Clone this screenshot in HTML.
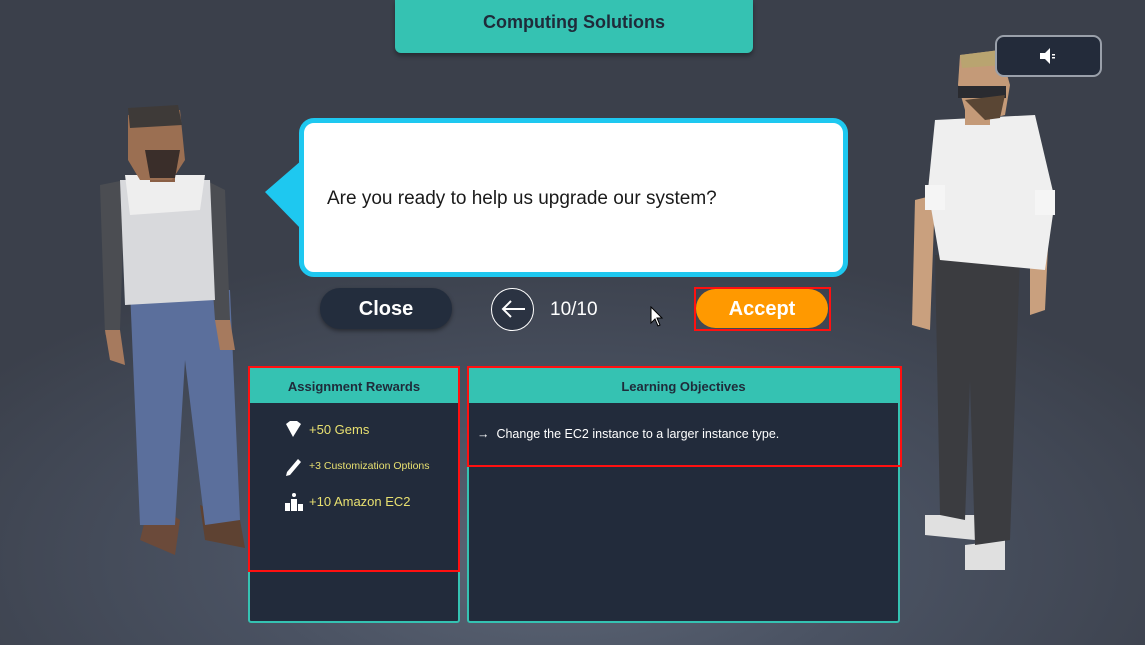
<!DOCTYPE html>
<html><head><style>
*{margin:0;padding:0;box-sizing:border-box}
body{width:1145px;height:645px;overflow:hidden;position:relative;font-family:"Liberation Sans",sans-serif;
background:radial-gradient(ellipse 700px 320px at 560px 560px,#5d6676 0%,#4a5262 45%,#3b404b 100%);}
.abs{position:absolute}
.panel{position:absolute;border:2px solid #35c2b2;background:#222b3b;border-radius:3px}
.ph{background:#35c2b2;height:34px;text-align:center;font-weight:bold;font-size:13px;color:#1f2b3a;line-height:36px}
.red{position:absolute;border:2px solid #ff1010}
.rw{position:absolute;color:#e8e070;font-size:13px}
</style></head><body>
<svg class="abs" style="left:0;top:0" width="1145" height="645">
 <polygon points="150,500 140,540 175,555 180,520" fill="#6b4a3a"/>
 <polygon points="200,505 205,540 245,548 240,520" fill="#5e4232"/>
 <polygon points="130,290 230,290 240,520 205,525 185,360 175,525 140,525" fill="#5b6f9c"/>
 <polygon points="100,185 125,180 120,330 105,335" fill="#4b4d52"/>
 <polygon points="205,180 225,190 230,320 215,320" fill="#4b4d52"/>
 <polygon points="120,180 210,180 215,300 125,305" fill="#d8d9dc"/>
 <polygon points="125,175 205,175 200,210 130,215" fill="#eeeeee"/>
 <polygon points="105,330 120,330 125,365 110,360" fill="#a67a5e"/>
 <polygon points="215,320 230,320 235,350 220,350" fill="#a67a5e"/>
 <rect x="150" y="160" width="25" height="22" fill="#8a5f45"/>
 <polygon points="128,115 180,110 185,160 172,180 140,180 128,160" fill="#9b6f52"/>
 <polygon points="128,108 178,105 182,125 130,128" fill="#3e3a38"/>
 <polygon points="145,150 180,150 175,178 150,178" fill="#3a2e2a"/>
 <polygon points="925,515 925,535 975,540 975,515" fill="#e0e0e0"/>
 <polygon points="965,545 965,570 1005,570 1005,540" fill="#e0e0e0"/>
 <polygon points="935,255 1020,255 1010,540 975,545 970,380 965,520 940,515" fill="#3b3c40"/>
 <polygon points="915,200 935,195 930,330 912,325" fill="#c9a07e"/>
 <polygon points="1030,200 1050,205 1045,310 1030,315" fill="#c9a07e"/>
 <polygon points="935,120 1035,115 1055,200 1045,270 940,260 928,190" fill="#efefef"/>
 <rect x="925" y="185" width="20" height="25" fill="#f5f5f5"/>
 <rect x="1035" y="190" width="20" height="25" fill="#f5f5f5"/>
 <rect x="965" y="105" width="25" height="20" fill="#c49a78"/>
 <polygon points="960,55 1000,50 1010,85 1005,115 985,120 965,110 958,85" fill="#c49a78"/>
 <polygon points="960,55 1000,50 1003,65 962,68" fill="#b9a470"/>
 <rect x="958" y="86" width="48" height="12" fill="#2a2b30"/>
 <polygon points="965,100 1005,95 1000,118 985,120" fill="#5a4634"/>
</svg>

<div class="abs" style="left:395px;top:0;width:358px;height:53px;background:#35c2b2;border-radius:0 0 6px 6px;box-shadow:0 3px 5px rgba(0,0,0,.35);text-align:center;font-weight:bold;font-size:18px;color:#1f2b3a;line-height:45px">Computing Solutions</div>

<div class="abs" style="left:995px;top:35px;width:107px;height:42px;background:#232b3a;border:2px solid #9aa0aa;border-radius:9px"></div>
<svg class="abs" style="left:1038px;top:47px" width="22" height="18"><polygon points="2,6 7,6 12,1 12,17 7,12 2,12" fill="#fff"/><rect x="14" y="7" width="3" height="1.5" fill="#fff"/><rect x="14" y="10" width="3" height="1.5" fill="#fff"/></svg>

<svg class="abs" style="left:262px;top:155px" width="45" height="80"><polygon points="40,5 40,75 3,37" fill="#1ec8f0"/></svg>
<div class="abs" style="left:299px;top:118px;width:549px;height:159px;background:#fff;border:5px solid #1ec8f0;border-radius:15px"></div>
<div class="abs" style="left:327px;top:188px;font-size:19px;color:#1a1a1a">Are you ready to help us upgrade our system?</div>

<div class="abs" style="left:320px;top:288px;width:132px;height:41px;background:#232d3d;border-radius:20px;box-shadow:0 2px 4px rgba(0,0,0,.4);color:#fff;font-weight:bold;font-size:20px;text-align:center;line-height:43px">Close</div>
<div class="abs" style="left:491px;top:288px;width:43px;height:43px;border:1.5px solid #fff;border-radius:50%;background:#2b3342"></div>
<svg class="abs" style="left:499px;top:299px" width="28" height="20"><path d="M26,10 H4 M12,2 L4,10 L12,18" stroke="#fff" stroke-width="2" fill="none"/></svg>
<div class="abs" style="left:550px;top:299px;font-size:19px;color:#fff">10/10</div>
<svg class="abs" style="left:650px;top:306px" width="16" height="22"><polygon points="1,1 1,17 5,13 8,20 10,19 7,12 12,12" fill="#fff" stroke="#000" stroke-width="1"/></svg>
<div class="abs" style="left:696px;top:289px;width:132px;height:39px;background:#ff9900;border-radius:20px;color:#fff;font-weight:bold;font-size:20px;text-align:center;line-height:41px">Accept</div>
<div class="red" style="left:694px;top:287px;width:137px;height:44px"></div>

<div class="panel" style="left:248px;top:367px;width:212px;height:256px"><div class="ph">Assignment Rewards</div></div>
<div class="panel" style="left:467px;top:367px;width:433px;height:256px"><div class="ph">Learning Objectives</div></div>

<svg class="abs" style="left:284px;top:420px" width="20" height="95">
 <polygon points="2,4 6,1 13,1 17,4 9,17" fill="#fff"/>
 <polygon points="3,52 14,39 17,42 6,55 2,56" fill="#fff"/>
 <rect x="1" y="83" width="5" height="8" fill="#fff"/><rect x="7" y="79" width="6" height="12" fill="#fff"/><rect x="14" y="84" width="5" height="7" fill="#fff"/><circle cx="10" cy="75" r="2" fill="#fff"/>
</svg>
<div class="rw" style="left:309px;top:422px;font-size:13px">+50 Gems</div>
<div class="rw" style="left:309px;top:460px;font-size:10.5px">+3 Customization Options</div>
<div class="rw" style="left:309px;top:494px;font-size:13px">+10 Amazon EC2</div>
<div class="abs" style="left:477px;top:427px;font-size:12.5px;color:#fff">→&nbsp; Change the EC2 instance to a larger instance type.</div>

<div class="red" style="left:248px;top:366px;width:212px;height:206px"></div>
<div class="red" style="left:467px;top:366px;width:435px;height:101px"></div>
</body></html>
